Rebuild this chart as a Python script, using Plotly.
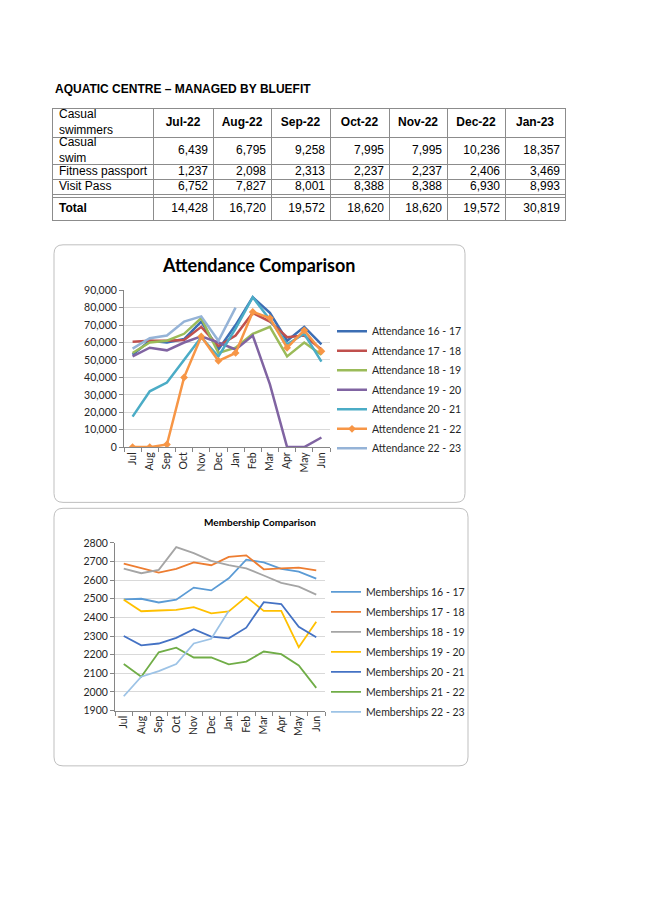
import plotly.graph_objects as go

W, H = 645, 912

# ---------------- data ----------------
table_header = ["Casual<br>swimmers", "Jul-22", "Aug-22", "Sep-22", "Oct-22", "Nov-22", "Dec-22", "Jan-23"]
table_rows = ["Casual<br>swim", "Fitness passport", "Visit Pass", "Total"]
casual_swim = ["6,439", "6,795", "9,258", "7,995", "7,995", "10,236", "18,357"]
fitness_passport = ["1,237", "2,098", "2,313", "2,237", "2,237", "2,406", "3,469"]
visit_pass = ["6,752", "7,827", "8,001", "8,388", "8,388", "6,930", "8,993"]
total = ["14,428", "16,720", "19,572", "18,620", "18,620", "19,572", "30,819"]

months = ["Jul", "Aug", "Sep", "Oct", "Nov", "Dec", "Jan", "Feb", "Mar", "Apr", "May", "Jun"]

att_names = ["Attendance 16 - 17", "Attendance 17 - 18", "Attendance 18 - 19", "Attendance 19 - 20",
             "Attendance 20 - 21", "Attendence 21 - 22", "Attendance 22 - 23"]
att_16_17 = [53000, 61000, 60000, 62000, 72000, 56000, 70000, 86000, 77000, 61000, 69000, 59000]
att_17_18 = [60500, 61000, 61000, 61500, 69000, 58000, 64000, 77000, 72000, 63000, 64000, 56000]
att_18_19 = [54000, 60000, 61000, 65000, 74000, 54000, 57000, 65000, 69000, 52000, 60000, 53000]
att_19_20 = [52000, 57000, 55500, 60000, 63500, 60000, 56000, 64000, 36000, 0, 0, 5500]
att_20_21 = [17500, 32000, 37000, 50000, 63000, 52000, 68000, 86000, 73000, 59000, 65000, 49000]
att_21_22 = [0, 0, 1500, 40000, 63500, 49500, 54000, 77500, 74000, 57000, 67000, 55000]
att_22_23 = [56500, 62500, 64000, 72000, 75000, 61000, 80000]
att_colors = ["#3C6EB4", "#C0504D", "#9BBB59", "#8064A2", "#4BACC6", "#F79646", "#95B3D7"]

mem_names = ["Memberships 16 - 17", "Memberships 17 - 18", "Memberships 18 - 19", "Memberships 19 - 20",
             "Memberships 20 - 21", "Memberships 21 - 22", "Memberships 22 - 23"]
mem_16_17 = [2497, 2500, 2480, 2495, 2560, 2545, 2610, 2710, 2695, 2660, 2645, 2608]
mem_17_18 = [2688, 2662, 2640, 2660, 2695, 2680, 2725, 2733, 2658, 2663, 2667, 2652]
mem_18_19 = [2662, 2637, 2655, 2777, 2745, 2703, 2680, 2663, 2625, 2585, 2565, 2522]
mem_19_20 = [2495, 2433, 2437, 2440, 2455, 2422, 2432, 2510, 2435, 2435, 2240, 2377]
mem_20_21 = [2300, 2250, 2260, 2290, 2337, 2297, 2288, 2345, 2482, 2472, 2350, 2293]
mem_21_22 = [2150, 2082, 2213, 2238, 2185, 2185, 2148, 2163, 2217, 2203, 2142, 2022]
mem_22_23 = [1977, 2082, 2112, 2150, 2260, 2285, 2435]
mem_colors = ["#5B9BD5", "#ED7D31", "#A5A5A5", "#FFC000", "#4472C4", "#70AD47", "#9DC3E6"]

# table geometry (style, in table units = pixels)
col_edges = [0, 100, 160, 218, 277, 336, 394, 452, 512]
row_edges = [0, 29, 57, 72, 87, 90, 113]


def px_x(v):
    return v / W


def px_y(v):
    return 1 - v / H


fig = go.Figure()

# ---------------- table (text on its own axes) ----------------
tfont = dict(family="Liberation Sans, Arial", size=12, color="black")
row_centers = [(row_edges[0] + row_edges[1]) / 2, (row_edges[1] + row_edges[2]) / 2,
               (row_edges[2] + row_edges[3]) / 2, (row_edges[3] + row_edges[4]) / 2,
               (row_edges[5] + row_edges[6]) / 2]
col_centers = [(col_edges[i] + col_edges[i + 1]) / 2 for i in range(len(col_edges) - 1)]

fig.add_trace(go.Scatter(
    x=col_centers[1:], y=[row_centers[0]] * 7, text=["<b>%s</b>" % h for h in table_header[1:]],
    mode="text", textposition="middle center", textfont=tfont, xaxis="x3", yaxis="y3",
    showlegend=False, hoverinfo="skip", cliponaxis=False))
fig.add_trace(go.Scatter(
    x=[6] * 5, y=row_centers,
    text=[table_header[0]] + table_rows[:3] + ["<b>%s</b>" % table_rows[3]],
    mode="text", textposition="middle right", textfont=tfont, xaxis="x3", yaxis="y3",
    showlegend=False, hoverinfo="skip", cliponaxis=False))
for r, vals in enumerate([casual_swim, fitness_passport, visit_pass, total]):
    fig.add_trace(go.Scatter(
        x=[col_edges[i + 2] - 5 for i in range(7)], y=[row_centers[r + 1]] * 7,
        text=vals, mode="text", textposition="middle left", textfont=tfont, xaxis="x3", yaxis="y3",
        showlegend=False, hoverinfo="skip", cliponaxis=False))

# ---------------- attendance chart ----------------
att_series = [att_16_17, att_17_18, att_18_19, att_19_20, att_20_21, att_21_22, att_22_23]
for name, vals, col in zip(att_names, att_series, att_colors):
    is_marker = name.startswith("Attendence")
    fig.add_trace(go.Scatter(
        x=months[:len(vals)], y=vals, name=name, xaxis="x", yaxis="y", legend="legend",
        legendgroup=name,
        mode="lines+markers" if is_marker else "lines",
        line=dict(color=col, width=2.5),
        marker=dict(symbol="diamond", size=6, color=col),
    ))

mem_series = [mem_16_17, mem_17_18, mem_18_19, mem_19_20, mem_20_21, mem_21_22, mem_22_23]
for name, vals, col in zip(mem_names, mem_series, mem_colors):
    fig.add_trace(go.Scatter(
        x=months[:len(vals)], y=vals, name=name, xaxis="x2", yaxis="y2", legend="legend2",
        legendgroup=name,
        mode="lines", line=dict(color=col, width=1.8),
    ))

tickfont = dict(family="Lato", size=10.5, color="#262626")
legfont = dict(family="Lato", size=10.5, color="#262626")

fig.update_layout(
    width=W, height=H,
    margin=dict(l=0, r=0, t=0, b=0),
    paper_bgcolor="white", plot_bgcolor="rgba(0,0,0,0)",
    xaxis=dict(domain=[px_x(124), px_x(330)], anchor="y", type="category",
               categoryorder="array", categoryarray=months, range=[-0.5, 11.5],
               tickangle=-90, tickfont=tickfont, showline=True, linecolor="#868686",
               ticks="outside", tickson="boundaries", ticklen=4, tickcolor="#868686",
               showgrid=False),
    yaxis=dict(domain=[px_y(447), px_y(288)], anchor="x", range=[0, 90000], dtick=10000,
               tickformat=",", tickfont=tickfont, showline=True, linecolor="#868686",
               ticks="outside", ticklen=4, tickcolor="#868686",
               gridcolor="#D9D9D9", zeroline=False),
    xaxis2=dict(domain=[px_x(115), px_x(325)], anchor="y2", type="category",
                categoryorder="array", categoryarray=months, range=[-0.5, 11.5],
                tickangle=-90, tickfont=tickfont, showline=True, linecolor="#868686",
                ticks="outside", tickson="boundaries", ticklen=4, tickcolor="#868686",
                showgrid=False),
    yaxis2=dict(domain=[px_y(714), px_y(544)], anchor="x2", range=[1900, 2800], dtick=100,
                tickfont=tickfont, showline=True, linecolor="#868686",
                ticks="outside", ticklen=4, tickcolor="#868686",
                gridcolor="#D9D9D9", zeroline=False),
    xaxis3=dict(domain=[px_x(53), px_x(565)], anchor="y3", range=[0, col_edges[-1]],
                tickvals=col_edges, showticklabels=False, ticks="", showgrid=True,
                gridcolor="#8C8C8C", gridwidth=1, zeroline=False, showline=True, mirror=True,
                linecolor="#8C8C8C", fixedrange=True),
    yaxis3=dict(domain=[px_y(217), px_y(104)], anchor="x3", range=[row_edges[-1], 0],
                tickvals=row_edges, showticklabels=False, ticks="", showgrid=True,
                gridcolor="#8C8C8C", gridwidth=1, zeroline=False, showline=True, mirror=True,
                linecolor="#8C8C8C", fixedrange=True),
    legend=dict(x=px_x(332), y=px_y(315), xanchor="left", yanchor="top", font=legfont,
                bgcolor="rgba(0,0,0,0)", itemwidth=30, tracegroupgap=0.5),
    legend2=dict(x=px_x(326), y=px_y(579), xanchor="left", yanchor="top", font=legfont,
                 bgcolor="rgba(0,0,0,0)", itemwidth=30, tracegroupgap=1),
    showlegend=True,
)


def rounded_box(x0, y0, x1, y1, r):
    X0, X1 = px_x(x0), px_x(x1)
    Y0, Y1 = px_y(y0), px_y(y1)
    rx, ry = r / W, r / H
    return (f"M {X0+rx},{Y0} L {X1-rx},{Y0} Q {X1},{Y0} {X1},{Y0-ry} "
            f"L {X1},{Y1+ry} Q {X1},{Y1} {X1-rx},{Y1} L {X0+rx},{Y1} "
            f"Q {X0},{Y1} {X0},{Y1+ry} L {X0},{Y0-ry} Q {X0},{Y0} {X0+rx},{Y0} Z")


fig.add_shape(type="path", xref="paper", yref="paper", path=rounded_box(54, 242, 465, 503, 9),
              line=dict(color="#BFBFBF", width=1), layer="below")
fig.add_shape(type="path", xref="paper", yref="paper", path=rounded_box(54, 509, 468, 770, 9),
              line=dict(color="#BFBFBF", width=1), layer="below")

fig.add_annotation(text="<b>AQUATIC CENTRE – MANAGED BY BLUEFIT</b>", xref="paper", yref="paper",
                   x=px_x(53), y=px_y(84), xanchor="left", yanchor="middle", showarrow=False,
                   font=dict(family="Liberation Sans, Arial", size=12, color="black"))
fig.add_annotation(text="<b>Attendance Comparison</b>", xref="paper", yref="paper",
                   x=px_x(258), y=px_y(262), xanchor="center", yanchor="middle", showarrow=False,
                   font=dict(family="Lato", size=18, color="black"))
fig.add_annotation(text="<b>Membership Comparison</b>", xref="paper", yref="paper",
                   x=px_x(260), y=px_y(523), xanchor="center", yanchor="middle", showarrow=False,
                   font=dict(family="Lato", size=10, color="black"))

fig.write_html("out.html", config={"displayModeBar": False},
               post_script="document.body.style.margin='0px';")
